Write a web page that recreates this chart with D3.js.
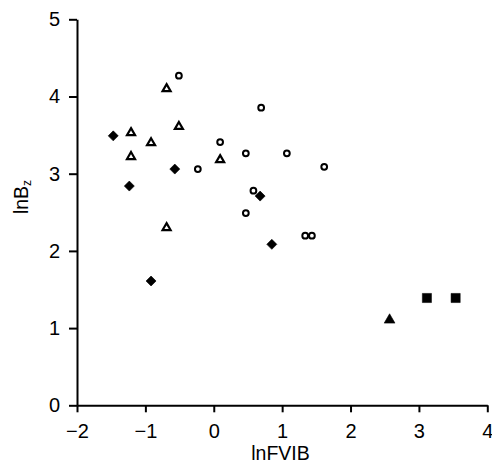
<!DOCTYPE html>
<html>
<head>
<meta charset="utf-8">
<script src="https://cdn.jsdelivr.net/npm/d3@7"></script>
<style>
  body { margin: 0; background: #fff; }
  svg { display: block; font-family: "Liberation Sans", Arial, sans-serif; }
  .axis path, .axis line { stroke: #000; stroke-width: 2; }
  .axis text { font-size: 20px; fill: #000; }
</style>
</head>
<body>
<svg id="chart"></svg>
<script>
(function() {
  // filled diamonds
  var diamondX = [-1.47, -1.235, -0.57, -0.917, 0.678, 0.849];
  var diamondY = [3.49, 2.84, 3.06, 1.61, 2.71, 2.085];
  // open triangles
  var triX = [-0.69, -1.21, -0.51, -0.917, -1.21, -0.69, 0.093];
  var triY = [4.10, 3.53, 3.61, 3.40, 3.22, 2.30, 3.18];
  // open circles
  var circX = [-0.51, -0.233, 0.093, 0.693, 0.469, 1.069, 1.615, 0.58, 0.469, 1.337, 1.435];
  var circY = [4.27, 3.06, 3.41, 3.855, 3.264, 3.264, 3.09, 2.78, 2.49, 2.197, 2.197];
  // filled triangle
  var fTriX = [2.571];
  var fTriY = [1.105];
  // filled squares
  var squareX = [3.117, 3.537];
  var squareY = [1.39, 1.39];

  var xTicks = [-2, -1, 0, 1, 2, 3, 4];
  var yTicks = [0, 1, 2, 3, 4, 5];

  var width = 492;
  var height = 473;

  var svg = d3.select('#chart')
    .attr('width', width)
    .attr('height', height);

  var x = d3.scaleLinear()
    .domain([-2, 4])
    .range([77, 487.3]);

  var y = d3.scaleLinear()
    .domain([0, 5])
    .range([405.3, 19.3]);

  var fmt = d3.format('d');

  // axes
  svg.append('g')
    .attr('class', 'axis')
    .attr('transform', 'translate(0,' + y(0) + ')')
    .call(d3.axisBottom(x).tickValues(xTicks).tickFormat(fmt)
      .tickSize(7).tickSizeOuter(0).tickPadding(12));

  svg.append('g')
    .attr('class', 'axis')
    .attr('transform', 'translate(' + x(-2) + ',0)')
    .call(d3.axisLeft(y).tickValues(yTicks).tickFormat(fmt)
      .tickSize(8).tickSizeOuter(0).tickPadding(9));

  function pairs(xs, ys) {
    return xs.map(function(v, i) { return [v, ys[i]]; });
  }

  function draw(data, type, size, fill, rotate, sw) {
    svg.append('g')
      .selectAll('path')
      .data(data)
      .enter()
      .append('path')
      .attr('d', d3.symbol().type(type).size(size))
      .attr('transform', function(d) {
        return 'translate(' + x(d[0]) + ',' + y(d[1]) + ')' + (rotate ? ' rotate(' + rotate + ')' : '');
      })
      .attr('fill', fill ? '#000' : '#fff')
      .attr('stroke', '#000')
      .attr('stroke-width', sw);
  }

  draw(pairs(circX, circY), d3.symbolCircle, 26, false, 0, 2);
  draw(pairs(triX, triY), d3.symbolTriangle, 28, false, 0, 2.2);
  draw(pairs(diamondX, diamondY), d3.symbolSquare, 50, true, 45, 0.6);
  draw(pairs(fTriX, fTriY), d3.symbolTriangle, 50, true, 0, 0.6);
  draw(pairs(squareX, squareY), d3.symbolSquare, 84, true, 0, 0.5);

  // axis titles
  svg.append('text')
    .attr('x', 280.5)
    .attr('y', 460)
    .attr('text-anchor', 'middle')
    .style('font-size', '19.5px')
    .text('lnFVIB');

  var yl = svg.append('text')
    .attr('transform', 'translate(28,197) rotate(-90)')
    .attr('text-anchor', 'middle')
    .style('font-size', '19.5px');
  yl.append('tspan').text('lnB');
  yl.append('tspan')
    .attr('dy', 3)
    .style('font-size', '12px')
    .text('z');
}());
</script>
</body>
</html>
